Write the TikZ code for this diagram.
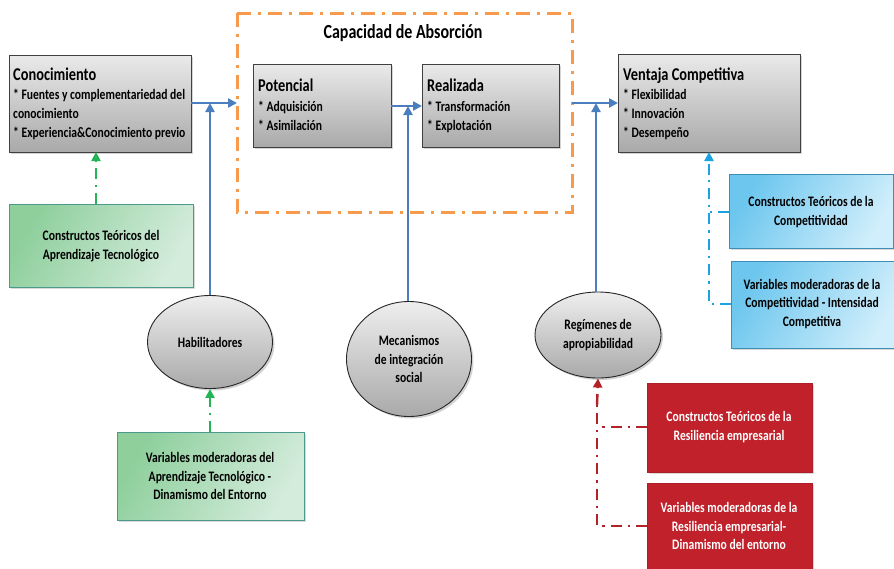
\documentclass[tikz,border=0pt]{standalone}
\usepackage{fontspec}
\setmainfont[FakeStretch=0.8]{Carlito}
\usetikzlibrary{shapes.geometric,shadows,arrows.meta}
\definecolor{arrowblue}{HTML}{4A7EBF}
\definecolor{orangeb}{HTML}{F79A4E}
\definecolor{greenl}{HTML}{22B455}
\definecolor{greentop}{HTML}{8ECF9C}
\definecolor{greenbot}{HTML}{D4ECDC}
\definecolor{greenedge}{HTML}{4C9A8E}
\definecolor{bluetop}{HTML}{6CC6EE}
\definecolor{bluebot}{HTML}{D0EEFB}
\definecolor{blueedge}{HTML}{3D8DB5}
\definecolor{bluel}{HTML}{1AA3DE}
\definecolor{redbox}{HTML}{C0212A}
\definecolor{redl}{HTML}{B22229}
\definecolor{graytop}{HTML}{EAEAEA}
\definecolor{graybot}{HTML}{A9A9A9}
\tikzset{
  graybox/.style={draw=black!75, line width=0.9pt, top color=graytop, bottom color=graybot,
    drop shadow={opacity=0.35, shadow xshift=2pt, shadow yshift=-2pt}},
  grayell/.style={ellipse, draw=black!85, line width=0.9pt, top color=graytop!80!white, bottom color=graybot,
    drop shadow={opacity=0.35, shadow xshift=2pt, shadow yshift=-2pt}},
  greenbox/.style={draw=greenedge, line width=1pt, shading=axis, left color=greentop, right color=greenbot, shading angle=60,
    drop shadow={opacity=0.3, shadow xshift=2pt, shadow yshift=-2pt}},
  bluebox/.style={draw=blueedge, line width=1pt, shading=axis, left color=bluetop, right color=bluebot, shading angle=60,
    drop shadow={opacity=0.3, shadow xshift=2pt, shadow yshift=-2pt}},
  redboxst/.style={fill=redbox, draw=redbox!90!black, line width=0.6pt,
    drop shadow={opacity=0.3, shadow xshift=2pt, shadow yshift=-2pt}},
  flow/.style={draw=arrowblue, line width=2.6pt, -{Triangle[length=9pt,width=9pt]}},
  dd/.style={line width=2.4pt, dash pattern=on 11pt off 6pt on 2.4pt off 6pt},
  title/.style={font=\fontsize{18}{21}\selectfont\bfseries, anchor=base west, inner sep=0pt},
  bul/.style={font=\fontsize{14.5}{19}\selectfont\bfseries, anchor=base west, inner sep=0pt, align=left},
  ctext/.style={font=\fontsize{14.5}{18.5}\selectfont\bfseries, align=center, inner sep=0pt},
}
\begin{document}
\begin{tikzpicture}[x=1pt,y=-1pt]
\useasboundingbox (0,0) rectangle (894,568);
% orange frame
\draw[orangeb, line width=3pt, dash pattern=on 14pt off 7pt on 3pt off 7pt] (237,13) rectangle (572,212);
\node[font=\fontsize{20}{24}\selectfont\bfseries] (cap) at (403,33) {Capacidad\ de\ Absorción};
% main boxes
\path[graybox] (9,55) rectangle (191,152);
\coordinate (conS) at (96,152); \coordinate (conE) at (191,103);
\node[title] (t1) at (13,80) {Conocimiento};
\node[bul] (b1) at (13,137) {* Fuentes y complementariedad del\\conocimiento\\* Experiencia\&Conocimiento previo};
\path[graybox] (253,64) rectangle (391,147);
\coordinate (potE) at (391,106);
\node[title] (t2) at (258,91) {Potencial};
\node[bul] (b2) at (258,130) {* Adquisición\\* Asimilación};
\path[graybox] (422,64) rectangle (559,147);
\coordinate (reaW) at (422,106);
\node[title] (t3) at (427,91) {Realizada};
\node[bul] (b3) at (427,130) {* Transformación\\* Explotación};
\path[graybox] (618,54) rectangle (800,152);
\coordinate (venW) at (618,103); \coordinate (venS) at (709,152);
\node[title] (t4) at (623,80) {Ventaja Competitiva};
\node[bul] (b4) at (623,137) {* Flexibilidad\\* Innovación\\* Desempeño};
\coordinate (orW) at (237,103); \coordinate (orE) at (572,103);
% ellipses
\node[grayell, minimum width=125pt, minimum height=93pt, ctext] (hab) at (210,342) {Habilitadores};
\node[grayell, minimum width=125pt, minimum height=115pt, ctext] (mec) at (409,359) {Mecanismos\\de integración\\social};
\node[grayell, minimum width=126pt, minimum height=86pt, ctext] (reg) at (598,335) {Regímenes de\\apropiabilidad};
% blue flows
\coordinate (j1) at (210,103); \coordinate (j2) at (408,106); \coordinate (j3) at (596,103);
\draw[flow] (conE) -- (orW);
\draw[flow] (hab.north) -- (j1);
\draw[flow] (potE) -- (reaW);
\draw[flow] (mec.north -| j2) -- (j2);
\draw[flow] (orE) -- (venW);
\draw[flow] (reg.north -| j3) -- (j3);
% green boxes
\path[greenbox] (9,204) rectangle (193,287);
\node[ctext] (g1) at (101,246) {Constructos Teóricos del\\Aprendizaje Tecnológico};
\coordinate (g1N) at (96,204);
\path[greenbox] (117,432) rectangle (304,520);
\node[ctext] (g2) at (210,476) {Variables moderadoras del\\Aprendizaje Tecnológico -\\Dinamismo del Entorno};
\coordinate (g2N) at (210,432);
\draw[greenl, dd, -{Triangle[length=9pt,width=9pt]}] (g1N) -- (conS);
\draw[greenl, dd, -{Triangle[length=9pt,width=9pt]}] (g2N) -- (hab.south);
% blue boxes
\path[bluebox] (729,174) rectangle (893,248);
\node[ctext] (bb1) at (811,212) {Constructos Teóricos de la\\Competitividad};
\path[bluebox] (731,261) rectangle (897,348);
\node[ctext] (bb2) at (812,304) {Variables moderadoras de la\\Competitividad - Intensidad\\Competitiva};
\coordinate (bv) at (709,304); \coordinate (bb1W) at (729,212); \coordinate (bb2W) at (731,304);
\draw[bluel, dd] (bb2W) -- (bv) -- (709,170);
\draw[bluel, dd, -{Triangle[length=9pt,width=9pt]}] (709,175) -- (venS);
\draw[bluel, dd] (bb1W) -- (709,212);
% red boxes
\path[redboxst] (647,383) rectangle (812,472);
\node[ctext, text=white] (r1) at (729,427) {Constructos Teóricos de la\\Resiliencia empresarial};
\path[redboxst] (647,483) rectangle (812,572);
\node[ctext, text=white] (r2) at (729,526) {Variables moderadoras de la\\Resiliencia empresarial-\\Dinamismo del entorno};
\coordinate (rv) at (597,526); \coordinate (r1W) at (647,427); \coordinate (r2W) at (647,526);
\draw[redl, dd] (r2W) -- (rv) -- (597,400);
\draw[redl, dd, -{Triangle[length=9pt,width=9pt]}] (597,405) -- (reg.south);
\draw[redl, dd] (r1W) -- (597,427);
\end{tikzpicture}
\end{document}
